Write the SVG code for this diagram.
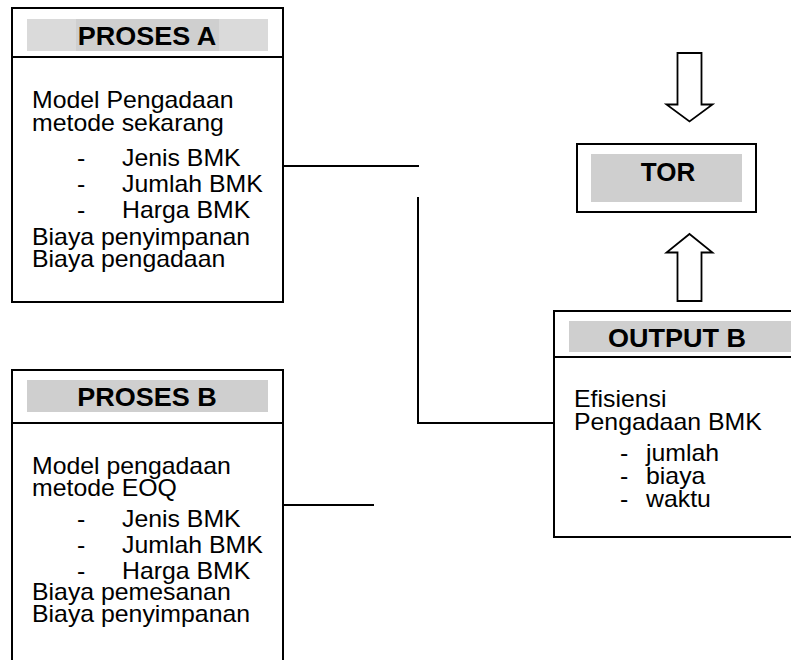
<svg xmlns="http://www.w3.org/2000/svg" width="791" height="660" viewBox="0 0 791 660">
  <style>
    .box { fill: #ffffff; stroke: #000000; stroke-width: 2; }
    .rule { stroke: #000000; stroke-width: 2; fill: none; }
    .bar { fill: #cfcfcf; }
    .bar-light { fill: #dadada; }
    .head { font-family: "Liberation Sans", Arial, sans-serif; font-weight: bold; font-size: 25px; fill: #000000; text-anchor: middle; }
    .body { font-family: "Liberation Sans", Arial, sans-serif; font-size: 23px; fill: #000000; }
    .arrow { fill: #ffffff; stroke: #000000; stroke-width: 1.8; stroke-linejoin: miter; }
  </style>

  <rect width="791" height="660" fill="#ffffff"/>

  <!-- connectors -->
  <g id="connectors">
    <line class="rule" x1="283" y1="166" x2="419" y2="166"/>
    <polyline class="rule" points="418,197 418,423 554,423"/>
    <line class="rule" x1="283" y1="505" x2="374" y2="505"/>
    <polygon class="arrow" points="677.5,53 701.5,53 701.5,104.5 712.5,104.5 689.5,121.5 666.5,104.5 677.5,104.5"/>
    <polygon class="arrow" points="689.5,234 712.5,252.5 701.5,252.5 701.5,301 677.5,301 677.5,252.5 666.5,252.5"/>
  </g>

  <!-- PROSES A (text is set slightly wide: scale 1.08 horizontally) -->
  <g id="proses-a">
    <rect class="box" x="12" y="8" width="271" height="294"/>
    <line class="rule" x1="12" y1="57" x2="283" y2="57"/>
    <rect class="bar-light" x="27" y="19" width="241" height="32"/>
    <rect class="bar" x="76" y="19" width="143" height="32"/>
    <text class="head" transform="translate(147 45) scale(1.08 1)">PROSES A</text>
    <text class="body" transform="translate(32 108) scale(1.08 1)">Model Pengadaan</text>
    <text class="body" transform="translate(32 131) scale(1.08 1)">metode sekarang</text>
    <text class="body" transform="translate(77 166) scale(1.08 1)">-</text>
    <text class="body" transform="translate(122 166) scale(1.08 1)">Jenis BMK</text>
    <text class="body" transform="translate(77 192) scale(1.08 1)">-</text>
    <text class="body" transform="translate(122 192) scale(1.08 1)">Jumlah BMK</text>
    <text class="body" transform="translate(77 218) scale(1.08 1)">-</text>
    <text class="body" transform="translate(122 218) scale(1.08 1)">Harga BMK</text>
    <text class="body" transform="translate(32 245) scale(1.08 1)">Biaya penyimpanan</text>
    <text class="body" transform="translate(32 267) scale(1.08 1)">Biaya pengadaan</text>
  </g>

  <!-- PROSES B -->
  <g id="proses-b">
    <rect class="box" x="12" y="370" width="271" height="320"/>
    <line class="rule" x1="12" y1="423" x2="283" y2="423"/>
    <rect class="bar" x="27" y="380" width="241" height="32"/>
    <text class="head" transform="translate(147 406) scale(1.08 1)">PROSES B</text>
    <text class="body" transform="translate(32 474) scale(1.08 1)">Model pengadaan</text>
    <text class="body" transform="translate(32 496) scale(1.08 1)">metode EOQ</text>
    <text class="body" transform="translate(77 527) scale(1.08 1)">-</text>
    <text class="body" transform="translate(122 527) scale(1.08 1)">Jenis BMK</text>
    <text class="body" transform="translate(77 553) scale(1.08 1)">-</text>
    <text class="body" transform="translate(122 553) scale(1.08 1)">Jumlah BMK</text>
    <text class="body" transform="translate(77 579) scale(1.08 1)">-</text>
    <text class="body" transform="translate(122 579) scale(1.08 1)">Harga BMK</text>
    <text class="body" transform="translate(32 600) scale(1.08 1)">Biaya pemesanan</text>
    <text class="body" transform="translate(32 622) scale(1.08 1)">Biaya penyimpanan</text>
  </g>

  <!-- TOR -->
  <g id="tor">
    <rect class="box" x="577" y="144" width="179" height="68"/>
    <rect class="bar" x="591" y="154" width="151" height="48"/>
    <text class="head" transform="translate(668 181) scale(1.04 1)">TOR</text>
  </g>

  <!-- OUTPUT B -->
  <g id="output-b">
    <rect class="box" x="554" y="311" width="260" height="226"/>
    <line class="rule" x1="554" y1="357" x2="800" y2="357"/>
    <rect class="bar" x="569" y="321" width="230" height="31"/>
    <text class="head" transform="translate(677 347) scale(1.08 1)">OUTPUT B</text>
    <text class="body" transform="translate(574 407) scale(1.08 1)">Efisiensi</text>
    <text class="body" transform="translate(574 430) scale(1.08 1)">Pengadaan BMK</text>
    <text class="body" transform="translate(620 461) scale(1.08 1)">-</text>
    <text class="body" transform="translate(646 461) scale(1.08 1)">jumlah</text>
    <text class="body" transform="translate(620 484) scale(1.08 1)">-</text>
    <text class="body" transform="translate(646 484) scale(1.08 1)">biaya</text>
    <text class="body" transform="translate(620 507) scale(1.08 1)">-</text>
    <text class="body" transform="translate(646 507) scale(1.08 1)">waktu</text>
  </g>
</svg>
